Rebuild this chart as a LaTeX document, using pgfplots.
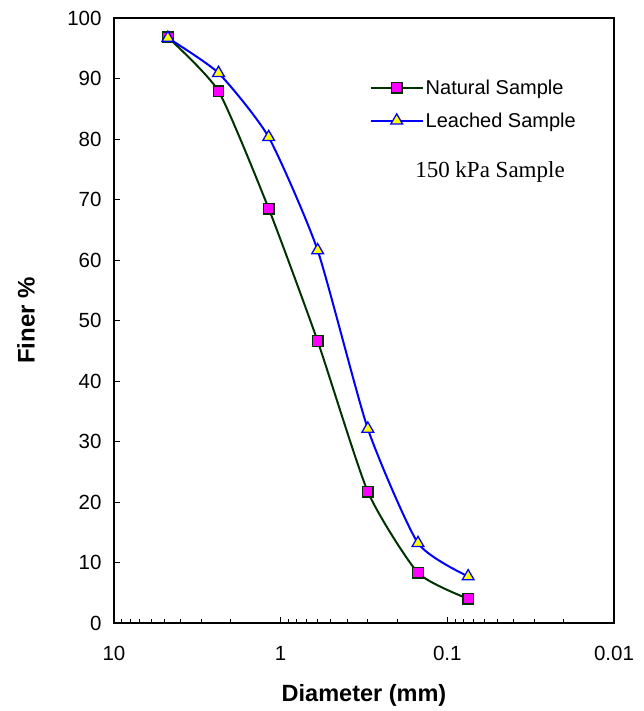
\documentclass[border=0pt]{standalone}
\usepackage{pgfplots}
\pgfplotsset{compat=1.18}
\usepackage{fontspec}
\setmainfont{Liberation Sans}
\newfontfamily\timesfont{Liberation Serif}
\definecolor{natgreen}{RGB}{0,51,0}
\definecolor{magentamark}{RGB}{255,0,255}
\definecolor{leachblue}{RGB}{0,0,255}
\definecolor{yellowmark}{RGB}{255,255,0}
\begin{document}
\begin{tikzpicture}
\useasboundingbox (-114pt,-88pt) rectangle (530pt,623pt);
\begin{axis}[
  at={(0,0)}, anchor=south west,
  scale only axis, width=500pt, height=605pt,
  xmode=log, x dir=reverse,
  xmin=0.01, xmax=10, ymin=0, ymax=100,
  xtick={0.01,0.1,1,10},
  xticklabels={0.01,0.1,1,10},
  minor xtick={0.02,0.03,0.04,0.05,0.06,0.07,0.08,0.09,0.2,0.3,0.4,0.5,0.6,0.7,0.8,0.9,2,3,4,5,6,7,8,9},
  ytick={0,10,20,30,40,50,60,70,80,90,100},
  xtick pos=bottom, ytick pos=left,
  tick align=inside,
  major tick length=6pt, minor tick length=4pt,
  tick style={black, line width=0.8pt},
  axis line style={black, line width=1.6pt},
  /pgf/number format/assume math mode=true,
  ticklabel style={font=\fontsize{20.5}{24}\selectfont},
  xticklabel style={yshift=-20pt},
  yticklabel style={xshift=-9pt},
  xlabel={\textbf{Diameter (mm)}},
  ylabel={\textbf{Finer \%}},
  xlabel style={font=\fontsize{23.5}{28}\selectfont, at={(axis description cs:0.5,-0.1195)}, anchor=center},
  ylabel style={font=\fontsize{24}{28}\selectfont, at={(axis description cs:-0.176,0.5)}, anchor=center},
  legend style={draw=none, fill=none, font=\fontsize{20}{24}\selectfont,
    at={(axis description cs:0.505,0.905)}, anchor=north west, row sep=13pt},
  legend cell align=left,
  legend image code/.code={\draw[mark repeat=2,mark phase=2] plot coordinates {(0pt,0pt) (26pt,0pt) (52pt,0pt)};},
]
\addplot[natgreen, line width=2pt, smooth, tension=0.35, mark=square*,
  mark size=5.3pt, mark options={fill=magentamark, draw=natgreen, line width=1.3pt}]
  coordinates {(4.75,96.8) (2.36,87.9) (1.18,68.5) (0.6,46.6) (0.3,21.7) (0.15,8.3) (0.075,4.0)};
\addlegendentry{Natural Sample}
\addplot[leachblue, line width=2pt, smooth, tension=0.35, mark=triangle*,
  mark size=6.8pt, mark options={fill=yellowmark, draw=leachblue, line width=1.3pt}]
  coordinates {(4.75,96.7) (2.36,90.9) (1.18,80.3) (0.6,61.6) (0.3,32.1) (0.15,13.2) (0.075,7.7)};
\addlegendentry{Leached Sample}
\node[font=\timesfont\fontsize{23}{27}\selectfont] at (rel axis cs:0.752,0.746) {150 kPa Sample};
\end{axis}
\end{tikzpicture}
\end{document}
